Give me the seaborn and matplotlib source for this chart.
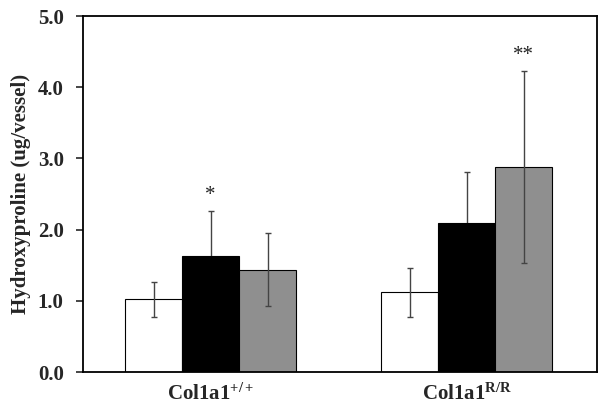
import matplotlib
matplotlib.use("Agg")
import matplotlib.pyplot as plt
import seaborn as sns
import pandas as pd
import numpy as np

groups = ["Col1a1$^{+/+}$", "Col1a1$^{R/R}$"]
conditions = ["A", "B", "C"]
means = {"A": [1.02, 1.12], "B": [1.63, 2.10], "C": [1.44, 2.88]}
errs = {"A": [0.25, 0.34], "B": [0.63, 0.71], "C": [0.51, 1.35]}
stars = {("B", 0): "*", ("C", 1): "**"}
colors = ["#ffffff", "#000000", "#8f8f8f"]

rows = []
for c in conditions:
    for i, g in enumerate(groups):
        rows.append({"group": g, "cond": c, "val": means[c][i], "err": errs[c][i], "gi": i})
df = pd.DataFrame(rows)

sns.set_style("white")
plt.rcParams["font.family"] = ["Liberation Serif", "DejaVu Serif"]
plt.rcParams["mathtext.fontset"] = "custom"
plt.rcParams["mathtext.rm"] = "Liberation Serif:bold"
plt.rcParams["mathtext.it"] = "Liberation Serif:bold"
plt.rcParams["mathtext.bf"] = "Liberation Serif:bold"

fig = plt.figure(figsize=(6.02, 4.12), dpi=100)
ax = fig.add_axes([0.138, 0.097, 0.854, 0.864])
sns.barplot(data=df, x="group", y="val", hue="cond", hue_order=conditions,
            order=groups, palette=colors, edgecolor="black", linewidth=0.8,
            width=0.668, errorbar=None, ax=ax, legend=False, zorder=2)

for c, cont in zip(conditions, ax.containers):
    for i, p in enumerate(cont.patches):
        x = p.get_x() + p.get_width() / 2
        m = means[c][i]
        e = errs[c][i]
        z = 1 if c == "B" else 5
        ax.errorbar(x, m, yerr=e, fmt="none", ecolor="#444444", elinewidth=1.0,
                    capsize=2.5, capthick=1.0, zorder=z)
        if (c, i) in stars:
            ax.text(x, m + e + 0.08, stars[(c, i)], ha="center", va="bottom",
                    fontsize=15, color="#222222")

ax.set_ylim(0, 5)
ax.set_xlim(-0.498, 1.51)
ax.set_yticks(np.arange(0, 5.01, 1.0))
ax.set_yticklabels([f"{v:.1f}" for v in np.arange(0, 5.01, 1.0)], fontsize=15, fontweight="bold")
ax.set_xticks([0, 1])
ax.set_xticklabels(groups, fontsize=15, fontweight="bold")
ax.tick_params(axis="y", direction="out", length=5, width=1.2, left=True, pad=9)
ax.tick_params(axis="x", length=0, pad=8)
ax.set_xlabel("")
ax.set_ylabel("Hydroxyproline (ug/vessel)", fontsize=15, fontweight="bold", labelpad=5)
for s in ax.spines.values():
    s.set_visible(True)
    s.set_color("black")
    s.set_linewidth(1.3)

fig.savefig("out.png", dpi=100)
